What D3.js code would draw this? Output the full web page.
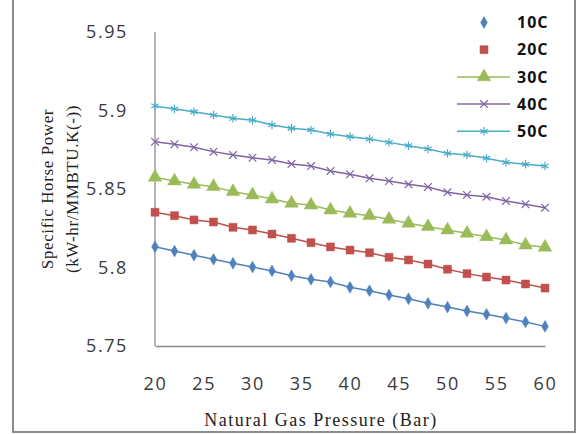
<!DOCTYPE html>
<html>
<head>
<meta charset="utf-8">
<script src="https://cdn.jsdelivr.net/npm/d3@7"></script>
<style>
  body { margin: 0; background: #fff; }
  svg { display: block; }
</style>
</head>
<body>
<svg id="chart" width="586" height="434"></svg>
<script>
// pressure values (Bar)
const pressures = [20, 22, 24, 26, 28, 30, 32, 34, 36, 38, 40, 42, 44, 46, 48, 50, 52, 54, 56, 58, 60];

// specific horse power per temperature
const s10C = [5.8132, 5.8105, 5.8078, 5.8052, 5.8027, 5.8003, 5.7978, 5.7948, 5.7925, 5.7908, 5.7874,
              5.7852, 5.7825, 5.7801, 5.7772, 5.7748, 5.7723, 5.7702, 5.7678, 5.7653, 5.7625];
const s20C = [5.8352, 5.8330, 5.8303, 5.8290, 5.8256, 5.8239, 5.8213, 5.8186, 5.8158, 5.8131, 5.8111,
              5.8094, 5.8065, 5.8048, 5.8022, 5.7989, 5.7961, 5.7939, 5.7920, 5.7895, 5.7869];
const s30C = [5.8575, 5.8551, 5.8530, 5.8515, 5.8483, 5.8462, 5.8436, 5.8409, 5.8398, 5.8366, 5.8345,
              5.8330, 5.8307, 5.8282, 5.8260, 5.8239, 5.8218, 5.8196, 5.8175, 5.8143, 5.8129];
const s40C = [5.8801, 5.8785, 5.8766, 5.8738, 5.8717, 5.8699, 5.8685, 5.8659, 5.8646, 5.8615, 5.8594,
              5.8568, 5.8551, 5.8530, 5.8513, 5.8479, 5.8462, 5.8451, 5.8424, 5.8403, 5.8381];
const s50C = [5.9029, 5.9010, 5.8992, 5.8971, 5.8950, 5.8938, 5.8908, 5.8887, 5.8876, 5.8850, 5.8833,
              5.8818, 5.8797, 5.8776, 5.8755, 5.8727, 5.8717, 5.8696, 5.8670, 5.8657, 5.8646];

const seriesNames = ["10C", "20C", "30C", "40C", "50C"];
const seriesValues = [s10C, s20C, s30C, s40C, s50C];

const xTicks = [20, 25, 30, 35, 40, 45, 50, 55, 60];
const yTicks = [5.75, 5.8, 5.85, 5.9, 5.95];

const colors = ["#4F81BD", "#C0504D", "#9BBB59", "#8064A2", "#4BACC6"];
const symbols = [d3.symbolDiamond, d3.symbolSquare, d3.symbolTriangle, d3.symbolTimes, d3.symbolAsterisk];
const symSize = [40, 64, 80, 40, 50];
const legendHasLine = [false, false, true, true, true];

const svg = d3.select("#chart");

// outer frame (top edge is cut off in the picture)
svg.append("rect")
    .attr("x", 13).attr("y", -5)
    .attr("width", 562).attr("height", 437)
    .attr("fill", "#fff")
    .attr("stroke", "#8c8c8c")
    .attr("stroke-width", 2);

const x = d3.scaleLinear().domain([20, 60]).range([155, 545]);
const y = d3.scaleLinear().domain([5.75, 5.95]).range([346, 32]);

// axes
const xAxis = svg.append("g")
    .attr("transform", `translate(0,${y(5.75)})`)
    .call(d3.axisBottom(x).tickValues(xTicks).tickSize(0).tickPadding(31).tickFormat(d3.format("d")));
const yAxis = svg.append("g")
    .attr("transform", `translate(${x(20)},0)`)
    .call(d3.axisLeft(y).tickValues(yTicks).tickSize(0).tickPadding(27).tickFormat(d => String(d)));

[xAxis, yAxis].forEach(g => {
    g.select(".domain").attr("stroke", "#8c8c8c").attr("stroke-width", 1.3);
    g.selectAll("text")
        .attr("font-family", "'Open Sans', sans-serif")
        .attr("font-size", 18)
        .attr("letter-spacing", 1.6)
        .attr("fill", "#3a3a3a");
});
yAxis.select(".domain").attr("d", `M0,${y(5.75)}V${y(5.95)}`);

// axis titles
svg.append("text")
    .attr("x", 321).attr("y", 426)
    .attr("text-anchor", "middle")
    .attr("font-family", "'Liberation Serif', serif")
    .attr("font-size", 18)
    .attr("letter-spacing", 1.5)
    .attr("fill", "#222")
    .text("Natural Gas Pressure (Bar)");

const yTitle = svg.append("text")
    .attr("transform", `translate(53,${(y(5.75) + y(5.95)) / 2}) rotate(-90)`)
    .attr("text-anchor", "middle")
    .attr("font-family", "'Liberation Serif', serif")
    .attr("font-size", 17)
    .attr("letter-spacing", 0.6)
    .attr("fill", "#222");
yTitle.append("tspan").attr("x", 0).attr("dy", 0).text("Specific Horse Power");
yTitle.append("tspan").attr("x", 0).attr("dy", 25).text("(kW-hr/MMBTU.K(-))");

// series
const line = d3.line().x((d, i) => x(pressures[i])).y(d => y(d));

seriesValues.forEach((vals, k) => {
    const g = svg.append("g");
    g.append("path")
        .datum(vals)
        .attr("fill", "none")
        .attr("stroke", colors[k])
        .attr("stroke-width", 1.5)
        .attr("d", line);
    g.selectAll("path.pt")
        .data(vals)
        .join("path")
        .attr("class", "pt")
        .attr("transform", (d, i) => `translate(${x(pressures[i])},${y(d)})`)
        .attr("d", d3.symbol(symbols[k], symSize[k]))
        .attr("fill", k >= 3 ? "none" : colors[k])
        .attr("stroke", colors[k])
        .attr("stroke-width", k >= 3 ? 1.2 : 0.5);
});

// legend
const legend = svg.append("g");
seriesNames.forEach((name, k) => {
    const ly = 22.5 + k * 27.2;
    const item = legend.append("g").attr("transform", `translate(484,${ly})`);
    if (legendHasLine[k]) {
        item.append("line")
            .attr("x1", -27).attr("x2", 26)
            .attr("stroke", colors[k]).attr("stroke-width", 1.5);
    }
    item.append("path")
        .attr("d", d3.symbol(symbols[k], symSize[k]))
        .attr("fill", k >= 3 ? "none" : colors[k])
        .attr("stroke", colors[k])
        .attr("stroke-width", k >= 3 ? 1.2 : 0.5);
    item.append("text")
        .attr("x", 33).attr("dy", "0.36em")
        .attr("font-family", "'Open Sans', sans-serif")
        .attr("font-size", 16)
        .attr("font-weight", 700)
        .attr("letter-spacing", 1)
        .attr("fill", "#111")
        .text(name);
});
</script>
</body>
</html>
